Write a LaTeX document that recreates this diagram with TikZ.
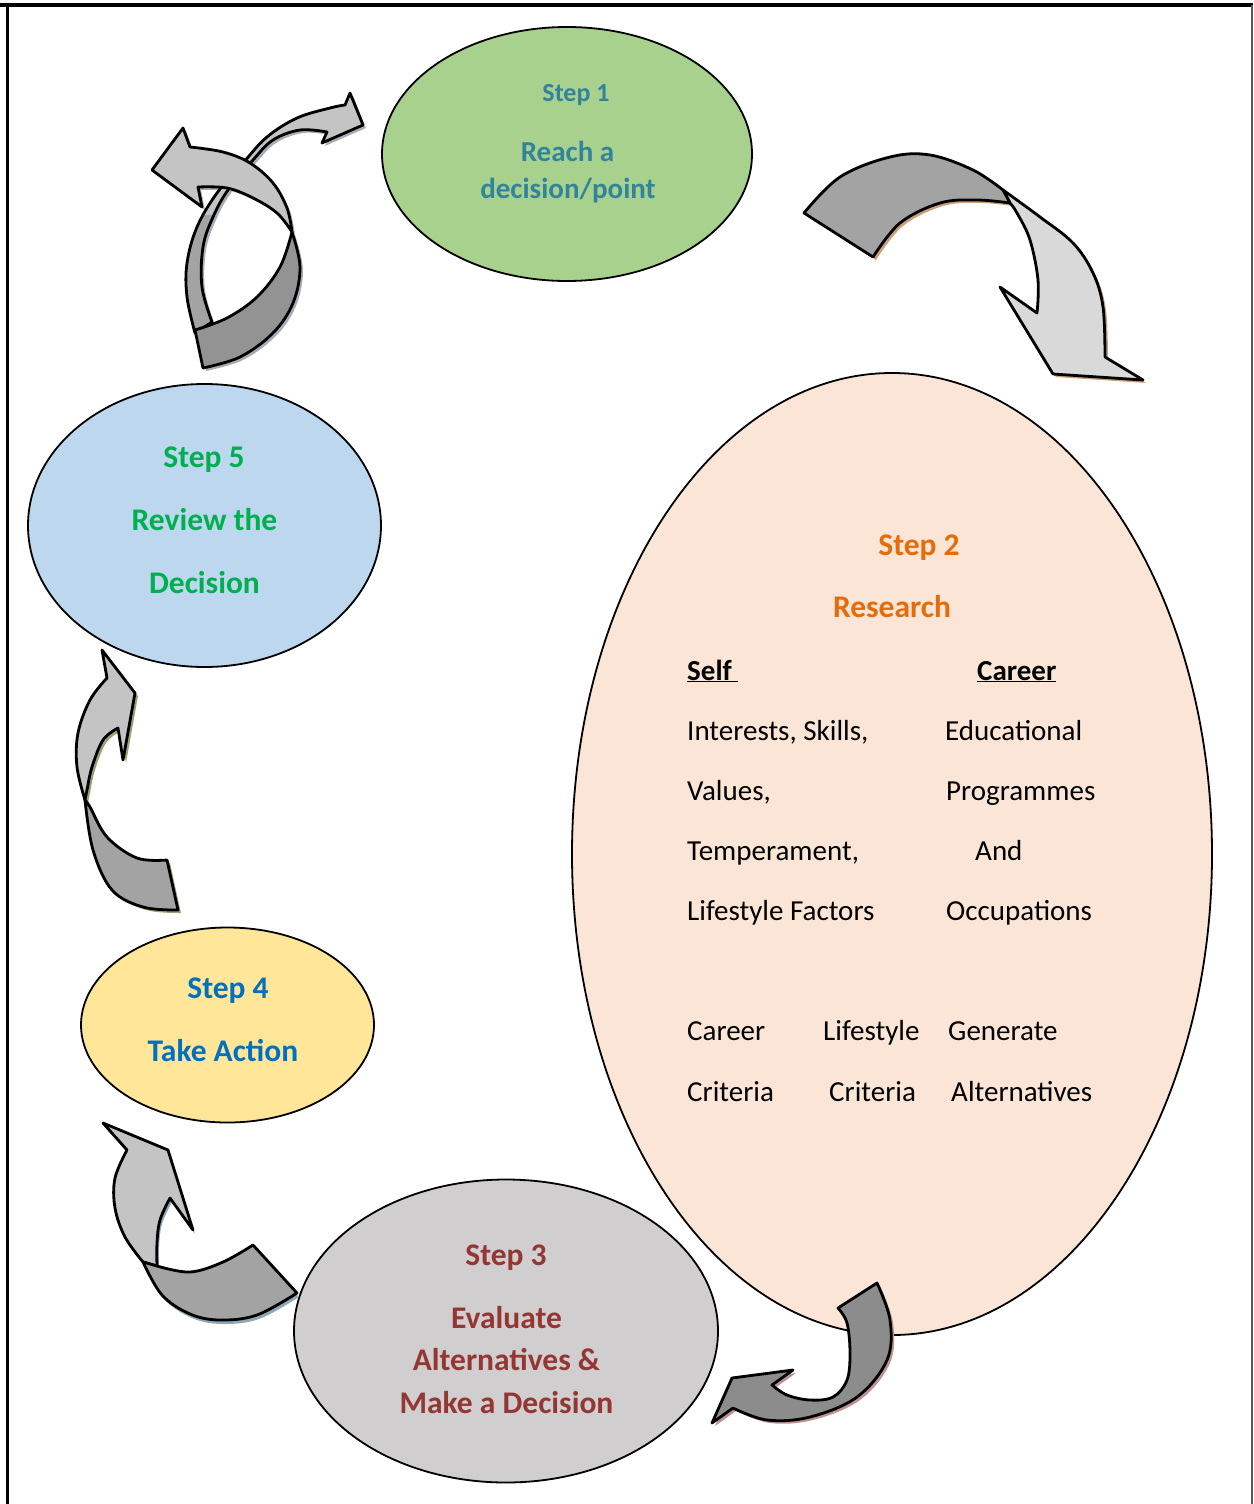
\documentclass[tikz,border=0pt]{standalone}
\usepackage{fontspec}
\setmainfont{Carlito}
\usetikzlibrary{shapes.geometric}

% fills of the five ovals
\definecolor{ovalgreen}{HTML}{A9D18E}
\definecolor{ovalpeach}{HTML}{FBE5D6}
\definecolor{ovalgrey}{HTML}{D0CECE}
\definecolor{ovalyellow}{HTML}{FFE699}
\definecolor{ovalblue}{HTML}{BDD7EE}
% heading colours
\definecolor{txtteal}{HTML}{31849B}
\definecolor{txtorange}{HTML}{E46C0A}
\definecolor{txtred}{HTML}{943634}
\definecolor{txtblue}{HTML}{0070C0}
\definecolor{txtgreen}{HTML}{00B050}
% block arrow greys and their soft shadows
\definecolor{arrdark}{HTML}{A3A3A3}
\definecolor{arrlight}{HTML}{C4C4C4}
\definecolor{arrpale}{HTML}{D9D9D9}
\definecolor{arrdeep}{HTML}{8C8C8C}
\definecolor{shtan}{HTML}{C9A07C}
\definecolor{shrose}{HTML}{BF9090}
\definecolor{shsteel}{HTML}{8FA8B6}
\definecolor{sholive}{HTML}{9CA070}
\definecolor{shgrey}{HTML}{A8AEB4}

% outlines of the curved block arrows
\newcommand{\arrAdark}{plot[smooth,tension=0.6] coordinates {(804,213) (840,177) (890,157) (930,155) (973,170) (1003,190)}
  -- (1010,203) -- plot[smooth,tension=0.6] coordinates {(1010,203) (977,200) (940,203) (900,223) (873,257)} -- cycle}
\newcommand{\arrAlight}{plot[smooth,tension=0.6] coordinates {(1003,190) (1040,217) (1073,243) (1093,273) (1103,307) (1105,357)}
  -- (1143,380) -- (1053,374) -- (1000,287) -- (1037,313)
  -- plot[smooth,tension=0.6] coordinates {(1037,313) (1038,280) (1030,240) (1017,213) (1010,203)} -- cycle}
\newcommand{\arrB}{(838,1308) -- (877,1283) -- plot[smooth,tension=0.6] coordinates {(877,1283) (890,1320) (887,1360) (857,1397) (810,1417) (767,1420) (733,1408)}
  -- (712,1423) -- (732,1378) -- (793,1370) -- (772,1385)
  -- plot[smooth,tension=0.6] coordinates {(772,1385) (787,1395) (810,1400) (833,1397) (847,1380) (850,1353) (847,1323) (838,1308)} -- cycle}
\newcommand{\arrCdark}{(253,1245) -- (297,1293) -- plot[smooth,tension=0.6] coordinates {(297,1293) (257,1315) (220,1320) (190,1314) (162,1295) (143,1262)}
  -- (157,1266) -- plot[smooth,tension=0.6] coordinates {(157,1266) (190,1272) (223,1262) (253,1245)} -- cycle}
\newcommand{\arrClight}{plot[smooth,tension=0.6] coordinates {(143,1262) (125,1237) (115,1208) (115,1178) (127,1150)}
  -- (103,1123) -- (168,1150) -- (193,1230) -- (170,1198)
  -- plot[smooth,tension=0.6] coordinates {(170,1198) (160,1220) (157,1243) (157,1266)} -- cycle}
\newcommand{\arrDdark}{(167,860) -- (178,910) -- plot[smooth,tension=0.6] coordinates {(178,910) (143,907) (112,890) (93,850) (85,800)}
  -- plot[smooth,tension=0.6] coordinates {(85,800) (90,807) (107,837) (137,858) (167,860)} -- cycle}
\newcommand{\arrDlight}{plot[smooth,tension=0.6] coordinates {(85,800) (77,767) (78,733) (90,700) (107,678)}
  -- (102,650) -- (135,693) -- (123,760) -- (118,728)
  -- plot[smooth,tension=0.6] coordinates {(118,728) (103,740) (92,767) (87,790) (85,800)} -- cycle}
\newcommand{\arrEleft}{plot[smooth,tension=0.6] coordinates {(195,333) (187,297) (187,263) (197,227) (217,193) (243,163) (267,137) (297,118) (330,108) (345,105)}
  -- (350,93) -- (363,125) -- (322,143) -- (327,132)
  -- plot[smooth,tension=0.6] coordinates {(327,132) (300,130) (273,140) (253,160) (228,190) (213,217) (203,247) (202,287) (212,322)} -- cycle}
\newcommand{\arrEband}{plot[smooth,tension=0.6] coordinates {(195,330) (227,318) (257,297) (280,267) (292,232)}
  -- plot[smooth,tension=0.6] coordinates {(292,232) (300,267) (293,303) (273,333) (240,357) (203,368)} -- cycle}
\newcommand{\arrEhead}{plot[smooth,tension=0.6] coordinates {(292,232) (287,208) (273,183) (250,163) (223,152) (190,147)}
  -- (183,128) -- (152,170) -- (202,207) -- (198,187)
  -- plot[smooth,tension=0.6] coordinates {(198,187) (227,188) (253,198) (277,213) (292,232)} -- cycle}

\begin{document}
\begin{tikzpicture}[x=1pt,y=-1pt,
  oval/.style={ellipse, draw=black, line width=1.8pt, inner sep=0pt},
  blockarrow/.style={draw=black, line width=2.8pt, line join=round},
  head/.style={anchor=base, inner sep=0pt, font=\fontsize{31.5}{36}\selectfont\bfseries},
  headsmall/.style={anchor=base, inner sep=0pt, font=\fontsize{26}{30}\selectfont\bfseries},
  headmid/.style={anchor=base, inner sep=0pt, font=\fontsize{29}{34}\selectfont\bfseries},
  body/.style={anchor=base west, inner sep=0pt, font=\fontsize{29}{34}\selectfont},
  bodybold/.style={anchor=base west, inner sep=0pt, font=\fontsize{29}{34}\selectfont\bfseries}]

\useasboundingbox (0,0) rectangle (1253,1504);
\fill[white] (0,0) rectangle (1253,1504);

% page frame
\draw[line width=4pt] (0,5) -- (1253,5);
\draw[line width=3pt] (7,5) -- (7,1504);
\draw[line width=2pt, black!65] (1251.5,5) -- (1251.5,1504);

% the five steps
\node[oval, fill=ovalgreen,  minimum width=370pt, minimum height=254pt] (step1) at (567,154) {};
\node[oval, fill=ovalpeach,  minimum width=640pt, minimum height=962pt] (step2) at (892,854) {};
\node[oval, fill=ovalgrey,   minimum width=424pt, minimum height=303pt] (step3) at (506,1331) {};
\node[oval, fill=ovalyellow, minimum width=293pt, minimum height=195pt] (step4) at (227.5,1025) {};
\node[oval, fill=ovalblue,   minimum width=353pt, minimum height=283pt] (step5) at (204.5,525.5) {};

% step 1 -> step 2
\fill[shtan, shift={(3,3)}] \arrAdark;
\fill[shtan, shift={(3,3)}] \arrAlight;
\filldraw[blockarrow, fill=arrpale] \arrAlight;
\filldraw[blockarrow, fill=arrdark] \arrAdark;

% step 2 -> step 3
\fill[shrose, shift={(3,3)}] \arrB;
\filldraw[blockarrow, fill=arrdeep] \arrB;

% step 3 -> step 4
\fill[shsteel, shift={(2,4)}] \arrCdark;
\fill[shsteel, shift={(2,4)}] \arrClight;
\filldraw[blockarrow, fill=arrlight] \arrClight;
\filldraw[blockarrow, fill=arrdark] \arrCdark;

% step 4 -> step 5
\fill[sholive, shift={(3,3)}] \arrDdark;
\fill[sholive, shift={(3,3)}] \arrDlight;
\filldraw[blockarrow, fill=arrlight] \arrDlight;
\filldraw[blockarrow, fill=arrdark] \arrDdark;

% step 5 -> step 1 (twisted ribbon)
\fill[shgrey, shift={(3,3)}] \arrEleft;
\fill[shgrey, shift={(3,3)}] \arrEband;
\fill[shgrey, shift={(3,3)}] \arrEhead;
\fill[arrlight] \arrEleft;
\begin{scope}
  \clip (0,215) rectangle (400,400);
  \fill[arrdark] \arrEleft;
\end{scope}
\draw[blockarrow] \arrEleft;
\filldraw[blockarrow, fill=arrdark!90!black] \arrEband;
\filldraw[blockarrow, fill=arrlight] \arrEhead;

% step 1 text
\node[headsmall, text=txtteal] (t1a) at (576,101) {Step 1};
\node[headmid, text=txtteal] (t1b) at (567.5,161) {Reach a};
\node[headmid, text=txtteal] (t1c) at (568,198) {decision/point};

% step 2 text
\node[head, text=txtorange] (t2a) at (919,555) {Step 2};
\node[head, text=txtorange] (t2b) at (892,617) {Research};
\node[bodybold] (self) at (687,680) {\underline{Self\ }};
\node[bodybold] (career) at (977,680) {\underline{Career}};
\node[body] (l1) at (687,740) {Interests, Skills,};
\node[body] (l2) at (687,800) {Values,};
\node[body] (l3) at (687,860) {Temperament,};
\node[body] (l4) at (687,920) {Lifestyle Factors};
\node[body] (r1) at (945,740) {Educational};
\node[body] (r2) at (946,800) {Programmes};
\node[body] (r3) at (975,860) {And};
\node[body] (r4) at (946,920) {Occupations};
\node[body] (c1a) at (687,1040) {Career};
\node[body] (c1b) at (687,1101) {Criteria};
\node[body] (c2a) at (823,1040) {Lifestyle};
\node[body] (c2b) at (829,1101) {Criteria};
\node[body] (c3a) at (948,1040) {Generate};
\node[body] (c3b) at (951,1101) {Alternatives};

% step 3 text
\node[head, text=txtred] (t3a) at (506,1265) {Step 3};
\node[head, text=txtred] (t3b) at (506.5,1328) {Evaluate};
\node[head, text=txtred] (t3c) at (506.5,1370) {Alternatives \&};
\node[head, text=txtred] (t3d) at (506.5,1413) {Make a Decision};

% step 4 text
\node[head, text=txtblue] (t4a) at (228,998) {Step 4};
\node[head, text=txtblue] (t4b) at (223,1061) {Take Action};

% step 5 text
\node[head, text=txtgreen] (t5a) at (204,467) {Step 5};
\node[head, text=txtgreen] (t5b) at (204.5,530) {Review the};
\node[head, text=txtgreen] (t5c) at (204.5,593) {Decision};
\end{tikzpicture}
\end{document}
